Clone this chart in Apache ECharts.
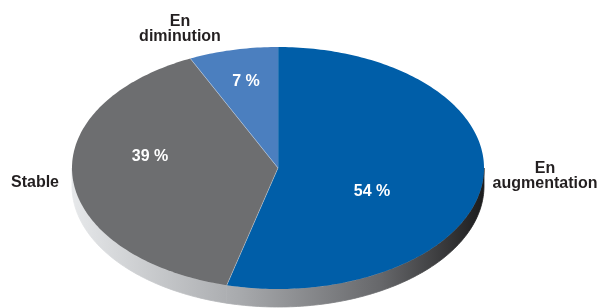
<!DOCTYPE html>
<html>
<head>
<meta charset="utf-8">
<script src="https://cdn.jsdelivr.net/npm/echarts@6/dist/echarts.min.js"></script>
<style>
  html, body { margin: 0; padding: 0; background: #fff; }
  #main { width: 601px; height: 308px; }
</style>
</head>
<body>
<div id="main"></div>
<script>
var categories = ['En\naugmentation', 'Stable', 'En\ndiminution'];
var values = [54, 39, 7];
var valueLabels = ['54 %', '39 %', '7 %'];

var colors = ['#005ea8', '#6d6e70', '#4b7fbf'];

var chartDom = document.getElementById('main');
var myChart = echarts.init(chartDom);

// ellipse geometry (pixels)
var cx = 278, cy = 168, rx = 206, ry = 121, depth = 18;
// label offsets from the centre, per slice
var innerOff = [[94, 24], [-128, -11], [-32, -86]];
var outerOff = [[267, 8], [-243, 15], [-98, -139]];

var total = values.reduce(function (a, b) { return a + b; }, 0);
var starts = [];
var acc = 0;
for (var i = 0; i < values.length; i++) {
  starts.push(acc);
  acc += values[i];
}

function pt(t, dy) {
  var r = t * Math.PI / 180;
  return [cx + rx * Math.sin(r), cy - ry * Math.cos(r) + (dy || 0)];
}

function arc(a0, a1, dy) {
  var pts = [];
  var n = Math.max(2, Math.ceil(Math.abs(a1 - a0)));
  for (var k = 0; k <= n; k++) {
    pts.push(pt(a0 + (a1 - a0) * k / n, dy));
  }
  return pts;
}

var sideGradient = new echarts.graphic.LinearGradient(cx - rx, 0, cx + rx, 0, [
  { offset: 0, color: '#e6e8ea' },
  { offset: 0.4, color: '#a9abae' },
  { offset: 0.75, color: '#66676a' },
  { offset: 1, color: '#1c1c1d' }
], true);

var font = "bold 16px 'Liberation Sans', Arial, sans-serif";

function renderItem(params, api) {
  var idx = params.dataIndex;
  var v = api.value(0);
  var a0 = starts[idx] / total * 360;
  var a1 = a0 + v / total * 360;
  var children = [];

  // side (front half only)
  var s = Math.max(a0, 90), e = Math.min(a1, 270);
  if (e > s) {
    var top = arc(s, e, 0);
    var bottom = arc(e, s, depth);
    children.push({
      type: 'polygon',
      shape: { points: top.concat(bottom) },
      style: { fill: sideGradient, stroke: sideGradient, lineWidth: 0.8 }
    });
  }

  // top face
  children.push({
    type: 'polygon',
    shape: { points: [[cx, cy]].concat(arc(a0, a1, 0)) },
    style: { fill: colors[idx] }
  });
  var edge = pt(a0, 0);
  children.push({
    type: 'line',
    shape: { x1: cx, y1: cy, x2: edge[0], y2: edge[1] },
    style: { stroke: 'rgba(255,255,255,0.45)', lineWidth: 0.7 }
  });

  children.push({
    type: 'text',
    x: cx + innerOff[idx][0],
    y: cy + innerOff[idx][1],
    style: {
      text: valueLabels[idx],
      font: font,
      fill: '#ffffff',
      align: 'center',
      verticalAlign: 'middle'
    }
  });
  children.push({
    type: 'text',
    x: cx + outerOff[idx][0],
    y: cy + outerOff[idx][1],
    style: {
      text: categories[idx],
      font: font,
      fill: '#231f20',
      align: 'center',
      verticalAlign: 'middle',
      lineHeight: 15
    }
  });

  return { type: 'group', children: children };
}

var option = {
  animation: false,
  series: [
    {
      type: 'custom',
      coordinateSystem: 'none',
      renderItem: renderItem,
      data: values.map(function (v) { return [v]; })
    }
  ]
};

option && myChart.setOption(option);
</script>
</body>
</html>
